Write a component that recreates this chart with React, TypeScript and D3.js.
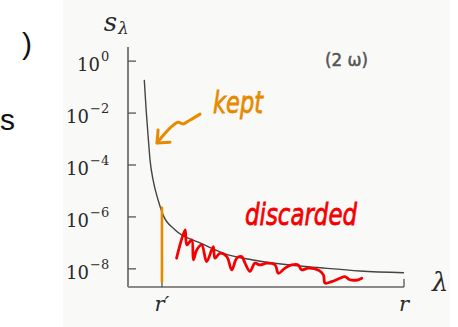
import * as d3 from "d3";

// singular value decay (lambda index out of r = 100)
const curveLambda = [5.9, 6.6, 7.4, 8.0, 9.1, 10.9, 12.7, 17.0, 26.1, 35.1, 45.3, 58.7, 69.6, 84.0, 100];
const curveValue = [1.9e-1, 1.2e-2, 9.1e-4, 1.5e-4, 2.6e-5, 4.5e-6, 1.2e-6, 3.2e-7, 1.0e-7, 3.8e-8, 2.2e-8, 1.4e-8, 1.1e-8, 8.3e-9, 7.1e-9];

const yTickExp = [0, -2, -4, -6, -8];
const xTicks = [
  { at: 12.3, label: "r\u2032" },
  { at: 100, label: "r" },
];

// hand annotations, in data units (lambda, log10 s)
const squiggleLambda = [17.6, 20.7, 21.3, 23.1, 23.7, 24.9, 26.7, 28.5, 30.9, 31.5, 33.3, 35.8, 37.6, 39.4, 41.2, 42.4, 44.2, 46.0, 47.8, 50.3, 53.3, 54.5, 56.9, 59.3, 61.7, 62.9, 65.3, 68.9, 70.8, 71.4, 73.8, 76.8, 78.6, 80.4, 83.4, 84.7];
const squiggleLog = [-7.59, -6.5, -7.08, -6.88, -7.65, -7.27, -7.08, -7.72, -7.14, -7.59, -7.4, -7.53, -8.04, -7.59, -7.53, -7.78, -8.1, -7.78, -7.85, -7.78, -7.85, -8.17, -7.97, -7.85, -7.85, -8.04, -7.97, -8.04, -8.23, -8.55, -8.49, -8.36, -8.3, -8.42, -8.42, -8.36];
const arrowLambda = [26.1, 22.5, 19.9, 18.1, 15.2, 10.5];
const arrowLog = [-2.04, -2.27, -2.42, -2.35, -2.58, -3.15];
const arrowHeadLambda = [10.9, 10.5, 15.2];
const arrowHeadLog = [-2.65, -3.15, -3.12];
const cutLambda = 12.3;
const cutLog = [-5.65, -8.5];

const W = 458;
const H = 327;
const ORANGE = "#e68a00";
const RED = "#f50000";

export default function App() {
  const x = d3.scaleLinear().domain([0, 100]).range([128, 404]);
  const y = d3.scaleLog().domain([2e-9, 3.5]).range([287, 47]);

  const curve = d3
    .line<number>()
    .x((_, i) => x(curveLambda[i]))
    .y((d) => y(d))
    .curve(d3.curveMonotoneX)(curveValue);

  const logLine = (xs: number[]) =>
    d3
      .line<number>()
      .x((_, i) => x(xs[i]))
      .y((e) => y(Math.pow(10, e)));

  const squiggle = logLine(squiggleLambda).curve(d3.curveCatmullRom)(squiggleLog);
  const arrow = logLine(arrowLambda).curve(d3.curveCatmullRom)(arrowLog);
  const arrowHead = logLine(arrowHeadLambda)(arrowHeadLog);

  const serif = "DejaVu Serif, serif";

  return (
    <svg width={W} height={H} style={{ position: "absolute", left: 0, top: 0 }} fontFamily={serif}>
      <rect width={W} height={H} fill="#fff" />
      <rect x={63} y={0} width={387} height={H} fill="#f9f9f8" />

      {/* cut-off slide text on the left */}
      <text x={22} y={54} fontFamily="Liberation Sans, sans-serif" fontSize={30} fill="#111">)</text>
      <text x={0} y={130} fontFamily="Liberation Sans, sans-serif" fontSize={30} fill="#111">s</text>

      {/* axes */}
      <line x1={x(0)} x2={x(0)} y1={47} y2={y.range()[0]} stroke="#555" strokeWidth={1.5} />
      <line x1={x(0)} x2={x(100)} y1={y.range()[0]} y2={y.range()[0]} stroke="#8a8a8a" strokeWidth={2} />

      {yTickExp.map((e) => {
        const yy = y(Math.pow(10, e));
        return (
          <g key={e}>
            <line x1={x(0)} x2={x(0) + 8} y1={yy} y2={yy} stroke="#555" strokeWidth={1.3} />
            <text x={e === 0 ? 100 : 89} y={yy + 10} textAnchor="end" fontSize={18} fill="#2a2a2a">10</text>
            <text x={e === 0 ? 101 : 90} y={yy} fontSize={13} fill="#2a2a2a">
              {e === 0 ? "0" : "\u2212" + Math.abs(e)}
            </text>
          </g>
        );
      })}

      {xTicks.map((t) => (
        <g key={t.label}>
          <line x1={x(t.at)} x2={x(t.at)} y1={287} y2={279} stroke="#555" strokeWidth={1.3} />
          <text x={x(t.at)} y={311} textAnchor="middle" fontSize={21} fontStyle="italic" fill="#2a2a2a">
            {t.label}
          </text>
        </g>
      ))}

      <text x={117} y={31} textAnchor="end" fontSize={26} fontStyle="italic" fill="#2a2a2a">s</text>
      <text x={118} y={34} fontSize={17} fontStyle="italic" fill="#2a2a2a">λ</text>
      <text x={432} y={291} fontSize={26} fontStyle="italic" fill="#2a2a2a">λ</text>

      {/* decay curve */}
      <path d={curve ?? ""} fill="none" stroke="#444" strokeWidth={1.4} />

      {/* annotations */}
      <line
        x1={x(cutLambda)}
        x2={x(cutLambda)}
        y1={y(Math.pow(10, cutLog[0]))}
        y2={y(Math.pow(10, cutLog[1]))}
        stroke={ORANGE}
        strokeWidth={2.6}
        strokeLinecap="round"
      />
      <path d={arrow ?? ""} fill="none" stroke={ORANGE} strokeWidth={3} strokeLinecap="round" />
      <path d={arrowHead ?? ""} fill="none" stroke={ORANGE} strokeWidth={3} strokeLinecap="round" strokeLinejoin="round" />
      <text
        x={213}
        y={113}
        fontFamily="DejaVu Sans, sans-serif"
        fontStyle="italic"
        fontSize={30}
        textLength={50}
        lengthAdjust="spacingAndGlyphs"
        fill={ORANGE}
        stroke={ORANGE}
        strokeWidth={0.8}
      >
        kept
      </text>

      <path d={squiggle ?? ""} fill="none" stroke={RED} strokeWidth={2.8} strokeLinecap="round" strokeLinejoin="round" />
      <text
        x={245}
        y={225}
        fontFamily="DejaVu Sans, sans-serif"
        fontStyle="italic"
        fontSize={30}
        textLength={112}
        lengthAdjust="spacingAndGlyphs"
        fill={RED}
        stroke={RED}
        strokeWidth={0.8}
      >
        discarded
      </text>

      <text
        x={325}
        y={66}
        fontFamily="DejaVu Sans, sans-serif"
        fontSize={17}
        textLength={43}
        lengthAdjust="spacingAndGlyphs"
        fill="#555"
        stroke="#555"
        strokeWidth={0.5}
      >
        (2 ω)
      </text>
    </svg>
  );
}
